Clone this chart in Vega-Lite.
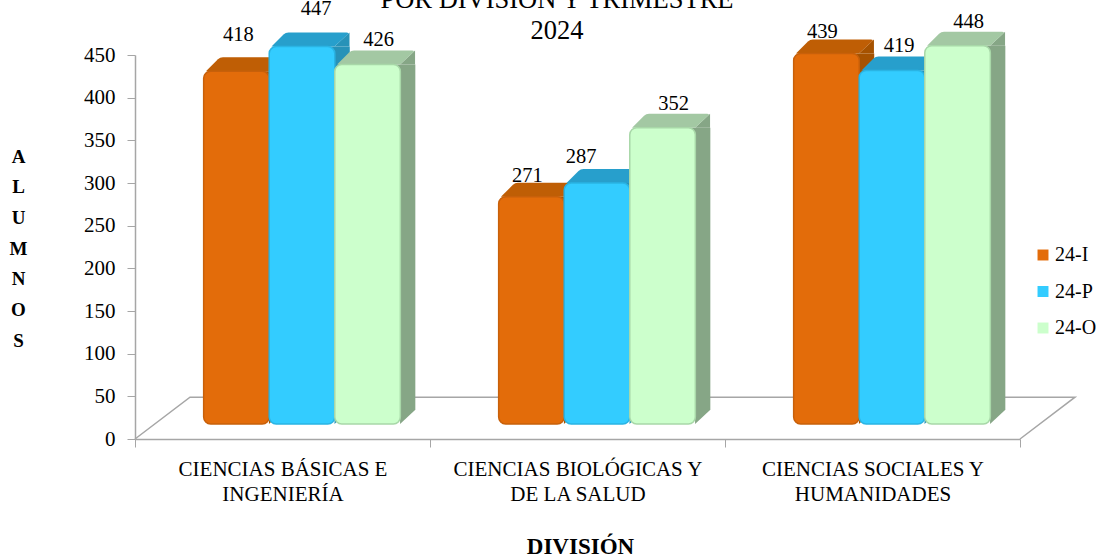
{
"$schema":"https://vega.github.io/schema/vega-lite/v6.json",
"width":964,"height":384,
"autosize":"none",
"padding":{"left":135,"top":55,"right":0,"bottom":120},
"background":"white",
"title":{"text":["POR DIVISIÓN Y TRIMESTRE","2024"],"anchor":"middle","frame":"group","dx":-60,"offset":-46,"font":"Liberation Serif","fontSize":26.5,"fontWeight":"normal","lineHeight":31,"color":"#000000"},
"config":{"view":{"stroke":null},"font":"Liberation Serif"},
"datasets":{
"bars":[
{"division":"CIENCIAS BÁSICAS E|INGENIERÍA","trimestre":"24-I","alumnos":418},
{"division":"CIENCIAS BÁSICAS E|INGENIERÍA","trimestre":"24-P","alumnos":447},
{"division":"CIENCIAS BÁSICAS E|INGENIERÍA","trimestre":"24-O","alumnos":426},
{"division":"CIENCIAS BIOLÓGICAS Y|DE LA SALUD","trimestre":"24-I","alumnos":271},
{"division":"CIENCIAS BIOLÓGICAS Y|DE LA SALUD","trimestre":"24-P","alumnos":287},
{"division":"CIENCIAS BIOLÓGICAS Y|DE LA SALUD","trimestre":"24-O","alumnos":352},
{"division":"CIENCIAS SOCIALES Y|HUMANIDADES","trimestre":"24-I","alumnos":439},
{"division":"CIENCIAS SOCIALES Y|HUMANIDADES","trimestre":"24-P","alumnos":419},
{"division":"CIENCIAS SOCIALES Y|HUMANIDADES","trimestre":"24-O","alumnos":448}
],
"floor":[
{"pos":0,"nivel":0,"orden":1},
{"pos":0.1864,"nivel":49,"orden":2},
{"pos":3.1864,"nivel":49,"orden":3},
{"pos":3,"nivel":0,"orden":4}
]
},
"layer":[
{"data":{"name":"floor"},
 "mark":{"type":"line","color":"#A6A6A6","strokeWidth":1.5},
 "encoding":{
  "x":{"field":"pos","type":"quantitative","scale":{"domain":[0,3.1864],"range":[0,940],"nice":false,"zero":false},"axis":null},
  "y":{"field":"nivel","type":"quantitative","scale":{"domain":[0,450],"nice":false},"axis":{"values":[0,50,100,150,200,250,300,350,400,450],"grid":false,"domainColor":"#A6A6A6","tickColor":"#A6A6A6","tickSize":8,"domainWidth":1.5,"labelFont":"Liberation Serif","labelFontSize":21,"labelColor":"#000000","labelPadding":12,"title":["A","L","U","M","N","O","S"],"titleFont":"Liberation Serif","titleFontSize":19,"titleFontWeight":"bold","titleColor":"#000000","titleAngle":0,"titleAlign":"center","titleBaseline":"top","titleLineHeight":30.7,"titleX":-117,"titleY":92}},
  "order":{"field":"orden","type":"quantitative"}
 }},
{"data":{"name":"bars"},
 "encoding":{
  "x":{"field":"division","type":"nominal","scale":{"type":"band","range":[0,885],"paddingInner":0,"paddingOuter":0},"sort":null,
   "axis":{"labelExpr":"split(datum.label,'|')","labelAngle":0,"labelLimit":0,"labelFont":"Liberation Serif","labelFontSize":21,"labelLineHeight":25,"labelColor":"#000000","labelPadding":11,"labelBaseline":"top","domainColor":"#A6A6A6","domainWidth":1.5,"tickColor":"#A6A6A6","tickSize":8,"tickBand":"extent","title":"DIVISIÓN","titleFont":"Liberation Serif","titleFontSize":23,"titleFontWeight":"bold","titleColor":"#000000","titleX":445,"titleY":107,"titleBaseline":"middle","titleAlign":"center"}},
  "xOffset":{"field":"trimestre","type":"nominal","sort":["24-I","24-P","24-O"],"scale":{"type":"band","domain":["24-I","24-P","24-O"],"range":[19.5,314.5],"paddingInner":0,"paddingOuter":0.75}},
  "y":{"field":"alumnos","type":"quantitative","scale":{"domain":[0,450],"nice":false}}
 },
 "layer":[
  {"mark":{"type":"bar","yOffset":-11,"y2Offset":-29},
   "encoding":{"y2":{"datum":0},
    "xOffset":{"field":"trimestre","type":"nominal","sort":["24-I","24-P","24-O"],"scale":{"type":"band","domain":["24-I","24-P","24-O"],"range":[34.5,329.5],"paddingInner":0,"paddingOuter":0.75}},
    "color":{"field":"trimestre","type":"nominal","scale":{"domain":["24-I","24-P","24-O"],"range":["#A65200","#2792B8","#86A686"]},"legend":null}}},
  {"mark":{"type":"point","filled":true,"opacity":1,"size":4,"shape":"M32.5,-11 L47.5,-25 L47.5,-11 Z"},
   "encoding":{"color":{"field":"trimestre","type":"nominal","scale":{"domain":["24-I","24-P","24-O"],"range":["#A65200","#2792B8","#86A686"]},"legend":null}}},
  {"mark":{"type":"point","filled":true,"opacity":1,"size":4,"shape":"M32.5,-15 L47.5,-29 L32.5,-29 Z"},
   "encoding":{"y":{"datum":0,"type":"quantitative"},"color":{"field":"trimestre","type":"nominal","scale":{"domain":["24-I","24-P","24-O"],"range":["#A65200","#2792B8","#86A686"]},"legend":null}}},
  {"mark":{"type":"point","filled":true,"opacity":1,"size":4,"shape":"M-30.5,-11 L32.5,-11 L45.5,-23 Q47.5,-25 44.5,-25 L-13.5,-25 Q-16.5,-25 -18.5,-23 Z"},
   "encoding":{"color":{"field":"trimestre","type":"nominal","scale":{"domain":["24-I","24-P","24-O"],"range":["#BF5E05","#279FCC","#A3C8A3"]},"legend":null}}},
  {"mark":{"type":"bar","yOffset":-11,"y2Offset":-15,"cornerRadius":7,"strokeWidth":1.5},
   "encoding":{"y2":{"datum":0},
    "color":{"field":"trimestre","type":"nominal","scale":{"domain":["24-I","24-P","24-O"],"range":["#E36C0A","#33CCFF","#CCFFCC"]},
     "legend":{"title":null,"orient":"none","legendX":898,"legendY":190,"symbolType":"square","symbolSize":120,"symbolStrokeWidth":0,"labelFont":"Liberation Serif","labelFontSize":20,"labelColor":"#000000","rowPadding":16.5,"labelOffset":2}},
    "stroke":{"field":"trimestre","type":"nominal","scale":{"domain":["24-I","24-P","24-O"],"range":["#C8600A","#2AB4E4","#A8D8A8"]},"legend":null}}},
  {"transform":[{"filter":"datum.alumnos==426||datum.alumnos==352||datum.alumnos==448"}],
   "mark":{"type":"text","dx":11,"yOffset":-35,"font":"Liberation Serif","fontSize":20.5,"color":"#000000"},
   "encoding":{"text":{"field":"alumnos","type":"quantitative"}}},
  {"transform":[{"filter":"datum.alumnos==419"}],
   "mark":{"type":"text","dx":7,"yOffset":-35,"font":"Liberation Serif","fontSize":20.5,"color":"#000000"},
   "encoding":{"text":{"field":"alumnos","type":"quantitative"}}},
  {"transform":[{"filter":"datum.alumnos==271||datum.alumnos==439"}],
   "mark":{"type":"text","dx":-4,"yOffset":-32,"font":"Liberation Serif","fontSize":20.5,"color":"#000000"},
   "encoding":{"text":{"field":"alumnos","type":"quantitative"}}},
  {"transform":[{"filter":"datum.alumnos==418"}],
   "mark":{"type":"text","dx":2,"yOffset":-47,"font":"Liberation Serif","fontSize":20.5,"color":"#000000"},
   "encoding":{"text":{"field":"alumnos","type":"quantitative"}}},
  {"transform":[{"filter":"datum.alumnos==447"}],
   "mark":{"type":"text","dx":14,"yOffset":-49,"font":"Liberation Serif","fontSize":20.5,"color":"#000000"},
   "encoding":{"text":{"field":"alumnos","type":"quantitative"}}},
  {"transform":[{"filter":"datum.alumnos==287"}],
   "mark":{"type":"text","dx":-16,"yOffset":-37,"font":"Liberation Serif","fontSize":20.5,"color":"#000000"},
   "encoding":{"text":{"field":"alumnos","type":"quantitative"}}}
 ],
 "resolve":{"scale":{"color":"independent","stroke":"independent","xOffset":"independent"}}
}
],
"resolve":{"scale":{"x":"independent"}}
}
